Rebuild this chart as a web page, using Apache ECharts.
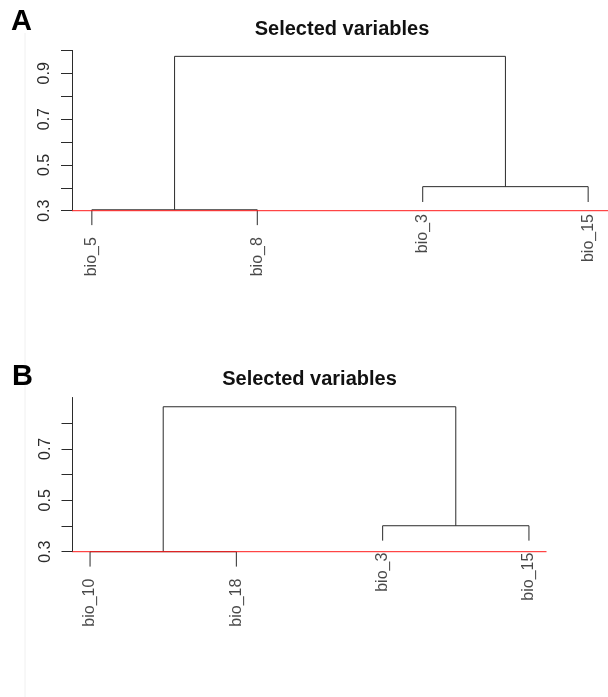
<!DOCTYPE html>
<html>
<head>
<meta charset="utf-8">
<script src="https://cdn.jsdelivr.net/npm/echarts@6/dist/echarts.min.js"></script>
<style>
html, body { margin: 0; padding: 0; background: #fff; }
#main { width: 608px; height: 697px; }
</style>
</head>
<body>
<div id="main"></div>
<script>
// panel A: leaves, hclust-style merge table and heights
var leavesA = ['bio_5', 'bio_8', 'bio_3', 'bio_15'];
var mergeA = [[-1, -2], [-3, -4], [1, 2]];
var heightA = [0.304, 0.405, 0.974];
var hangA = 0.067;
var ticksA = [0.3, 0.4, 0.5, 0.6, 0.7, 0.8, 0.9, 1.0];
var tickLabelsA = [0.3, 0.5, 0.7, 0.9];

// panel B
var leavesB = ['bio_10', 'bio_18', 'bio_3', 'bio_15'];
var mergeB = [[-1, -2], [-3, -4], [1, 2]];
var heightB = [0.30, 0.401, 0.864];
var hangB = 0.058;
var ticksB = [0.3, 0.4, 0.5, 0.6, 0.7, 0.8];
var tickLabelsB = [0.3, 0.5, 0.7];

var cutHeight = 0.3;
var titleText = 'Selected variables';

var FONT = 'Liberation Sans, Arial, sans-serif';
var LINE = '#2b2b2b';
var XMIN = 0.88, XMAX = 4.12;

var myChart = echarts.init(document.getElementById('main'));

// build the dendrogram line series + leaf label series for one panel
function dendrogram(leaves, merge, height, hang, idx) {
    var nodes = [];
    var leafY = [];
    var out = [];
    merge.forEach(function (m, k) {
        var h = height[k];
        var ends = m.map(function (c) {
            if (c < 0) {
                leafY[-c - 1] = h - hang;
                return { x: -c, y: h - hang };
            }
            return { x: nodes[c - 1].x, y: nodes[c - 1].h };
        });
        nodes.push({ x: (ends[0].x + ends[1].x) / 2, h: h });
        out.push({
            type: 'line',
            xAxisIndex: idx,
            yAxisIndex: idx,
            symbol: 'none',
            silent: true,
            clip: false,
            animation: false,
            z: 2,
            lineStyle: { color: LINE, width: 1 },
            data: [[ends[0].x, ends[0].y], [ends[0].x, h], [ends[1].x, h], [ends[1].x, ends[1].y]]
        });
    });
    // red cut line (abline) across the plot region
    out.push({
        type: 'line',
        xAxisIndex: idx,
        yAxisIndex: idx,
        symbol: 'none',
        silent: true,
        clip: false,
        animation: false,
        z: 10,
        lineStyle: { color: '#ff1a1a', width: 1 },
        data: [[XMIN, cutHeight], [XMAX, cutHeight]]
    });
    out.push({
        type: 'scatter',
        xAxisIndex: idx,
        yAxisIndex: idx,
        symbolSize: 0,
        silent: true,
        clip: false,
        animation: false,
        data: leaves.map(function (name, i) {
            return { value: [i + 1, leafY[i]], name: name };
        }),
        label: {
            show: true,
            formatter: '{b}',
            position: 'bottom',
            distance: 12,
            rotate: 90,
            align: 'right',
            verticalAlign: 'middle',
            fontSize: 16,
            fontFamily: FONT,
            color: '#1a1a1a'
        }
    });
    return out;
}

function yAxis(idx, max, ticks, labels) {
    return {
        type: 'value',
        gridIndex: idx,
        min: 0.3,
        max: max,
        splitLine: { show: false },
        axisLine: { show: true, onZero: false, lineStyle: { color: LINE, width: 1 } },
        axisTick: { show: true, length: 11, customValues: ticks, lineStyle: { color: LINE, width: 1 } },
        axisLabel: {
            show: true,
            customValues: labels,
            rotate: 90,
            margin: 19,
            fontSize: 16,
            fontFamily: FONT,
            color: '#2b2b2b',
            formatter: function (v) { return v.toFixed(1); }
        }
    };
}

function xAxis(idx) {
    return {
        type: 'value', gridIndex: idx, min: XMIN, max: XMAX, show: false,
        axisLine: { show: false }, axisTick: { show: false },
        axisLabel: { show: false }, splitLine: { show: false }
    };
}

var option = {
    backgroundColor: '#fff',
    animation: false,
    title: [
        {
            text: titleText, left: 337, top: 14, textAlign: 'center',
            textStyle: { fontSize: 20, fontWeight: 'bold', color: '#111', fontFamily: FONT }
        },
        {
            text: titleText, left: 304.5, top: 364, textAlign: 'center',
            textStyle: { fontSize: 20, fontWeight: 'bold', color: '#111', fontFamily: FONT }
        }
    ],
    graphic: [
        { type: 'line', shape: { x1: 25, y1: 33, x2: 25, y2: 697 }, style: { stroke: '#f0f0f0', lineWidth: 1 }, silent: true },
        { type: 'text', left: 11, top: 7, style: { text: 'A', font: 'bold 29px ' + FONT, fill: '#000' } },
        { type: 'text', left: 12, top: 362, style: { text: 'B', font: 'bold 29px ' + FONT, fill: '#000' } }
    ],
    grid: [
        { left: 72, right: -3, top: 50.4, height: 160.3 },
        { left: 72.5, right: 61.5, top: 397.5, height: 154.2 }
    ],
    xAxis: [xAxis(0), xAxis(1)],
    yAxis: [
        yAxis(0, 1.0, ticksA, tickLabelsA),
        yAxis(1, 0.9, ticksB, tickLabelsB)
    ],
    series: dendrogram(leavesA, mergeA, heightA, hangA, 0)
        .concat(dendrogram(leavesB, mergeB, heightB, hangB, 1))
};

myChart.setOption(option);
</script>
</body>
</html>
